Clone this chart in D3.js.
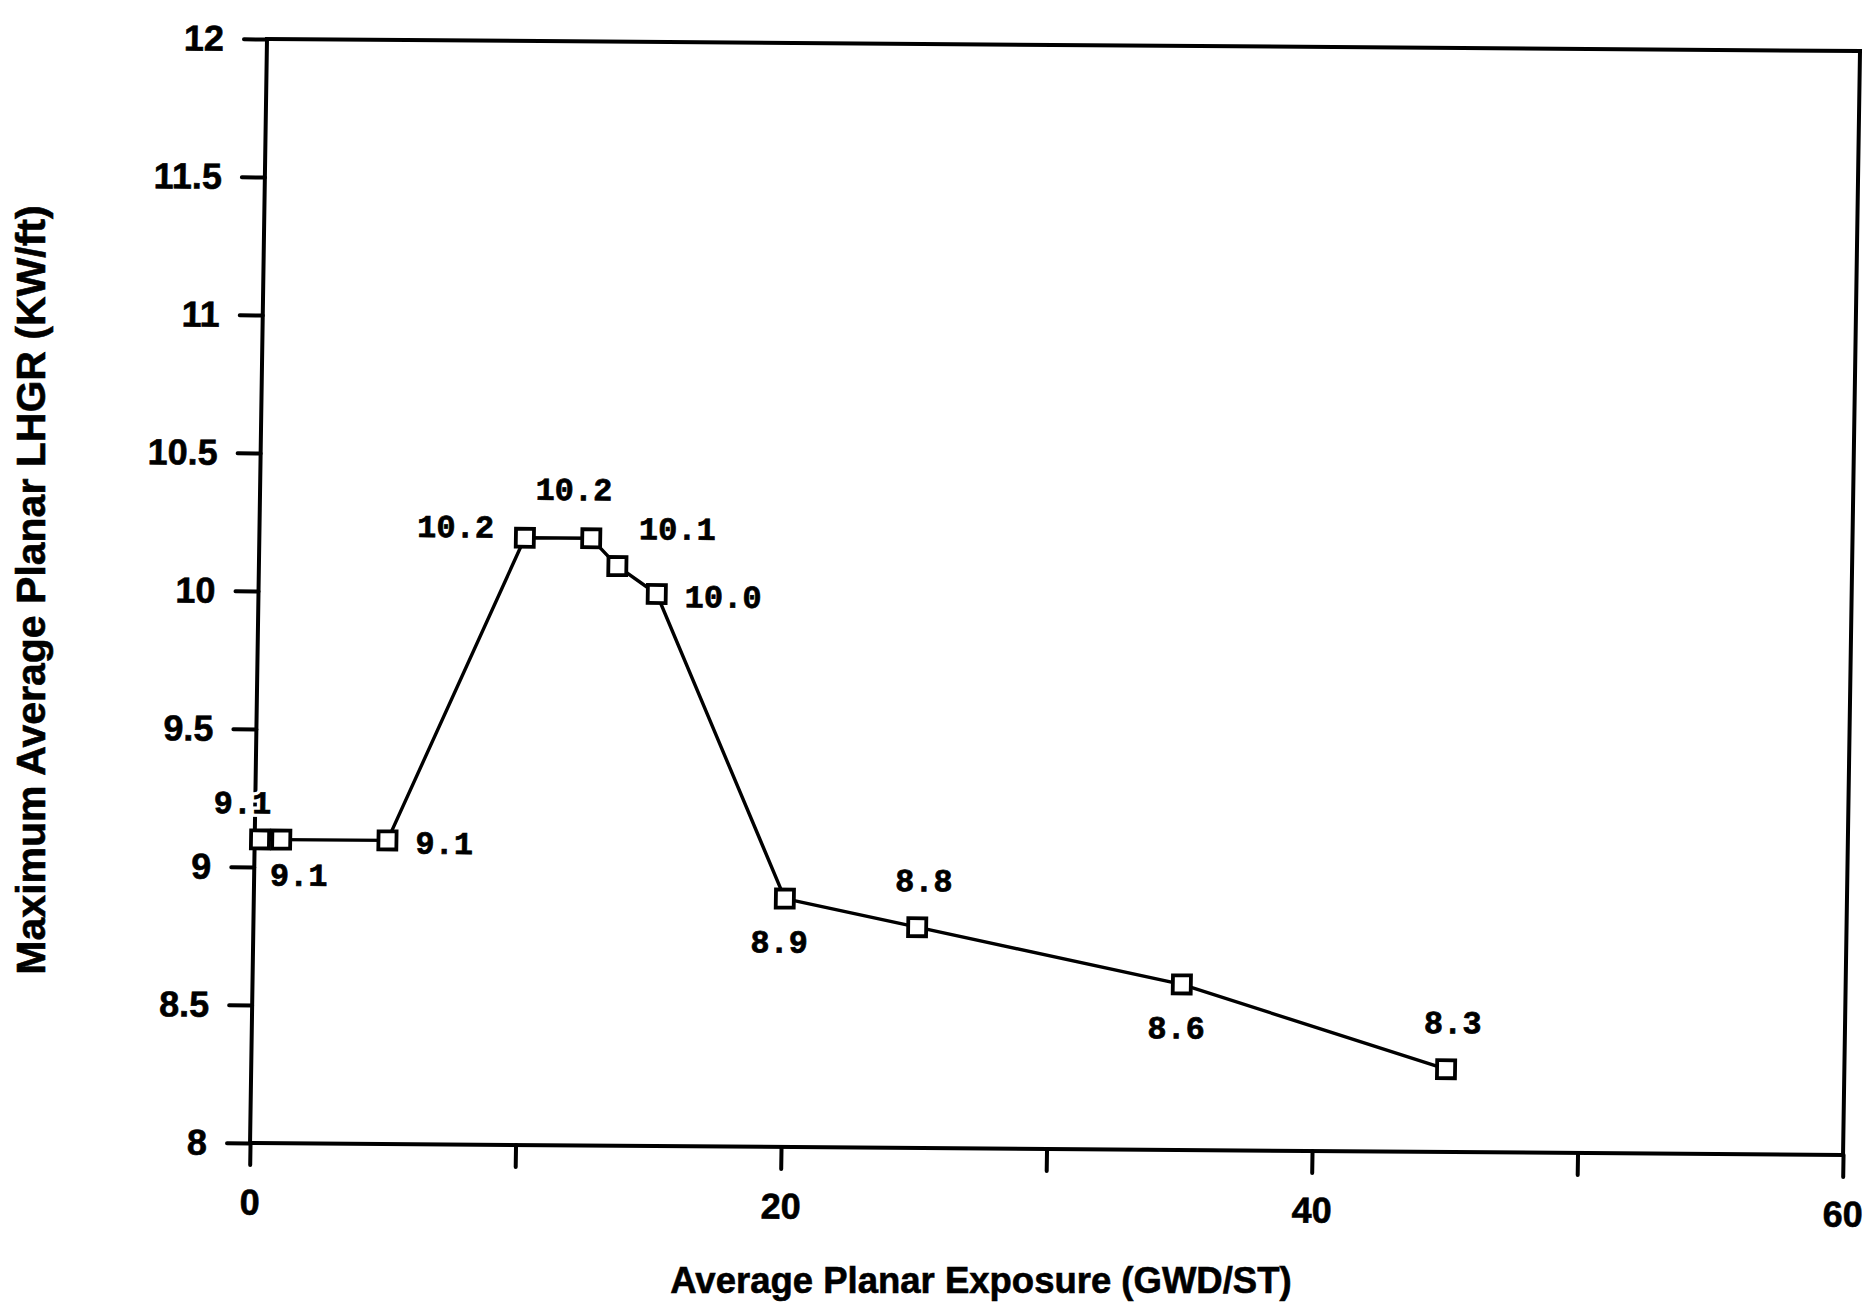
<!DOCTYPE HTML>
<html>
<head>
    <title>MAPLHGR vs Exposure</title>
    <script type="text/javascript" src="https://cdn.jsdelivr.net/npm/d3@7/dist/d3.min.js"></script>
    <style>
        body { margin: 0; background: white; }
        .tick-label { font-family: "Liberation Sans", Arial, sans-serif; font-weight: bold; stroke: black; stroke-width: 0.6px; }
        .pt-label { font-family: "Liberation Mono", "Courier New", monospace; font-weight: bold; stroke: black; stroke-width: 0.7px; }
        .pt-halo { font-family: "Liberation Mono", "Courier New", monospace; font-weight: bold; stroke: white; stroke-width: 7px; fill: white; }
    </style>
</head>
<body>
    <div id="panel"></div>

    <script>
        // data
        var exposure = [0.2, 1.0, 5.0, 10.0, 12.5, 13.5, 15.0, 20.0, 25.0, 35.0, 45.0];
        var lhgr     = [9.1, 9.1, 9.1, 10.2, 10.2, 10.1, 10.0, 8.9, 8.8, 8.6, 8.3];
        var pointLabels = ["9.1", "9.1", "9.1", "10.2", "10.2", "10.1", "10.0", "8.9", "8.8", "8.6", "8.3"];
        var labelSide = ["upleft", "downright", "right", "left", "top", "upright", "right", "below", "above", "below", "above"];
        var xTicks = [0, 10, 20, 30, 40, 50, 60];
        var xTickLabels = [0, 20, 40, 60];
        var yTicks = [8, 8.5, 9, 9.5, 10, 10.5, 11, 11.5, 12];
        var xTitle = "Average Planar Exposure (GWD/ST)";
        var yTitle = "Maximum Average Planar LHGR (KW/ft)";

        var width = 1870, height = 1305;
        var plot_w = 1593, plot_h = 1104;

        var svg = d3.select("#panel").append("svg")
                    .attr("width", width)
                    .attr("height", height);
        svg.append("rect").attr("width", width).attr("height", height).attr("fill", "white");

        // the scan is slightly sheared, so the plot area is too
        var plot = svg.append("g")
                      .attr("transform", "matrix(1, 0.00753, -0.01536, 1, 267, 39)");

        var x = d3.scaleLinear().domain([0, 60]).range([0, plot_w]);
        var y = d3.scaleLinear().domain([8, 12]).range([plot_h, 0]);

        var xAxis = plot.append("g")
                        .attr("transform", "translate(0," + plot_h + ")")
                        .call(d3.axisBottom(x)
                                .tickValues(xTicks)
                                .tickSize(22)
                                .tickSizeOuter(0)
                                .tickPadding(24)
                                .tickFormat(function(d){ return xTickLabels.indexOf(d) >= 0 ? d : ""; }));
        var yAxis = plot.append("g")
                        .call(d3.axisLeft(y)
                                .tickValues(yTicks)
                                .tickSize(23)
                                .tickSizeOuter(0)
                                .tickPadding(20)
                                .tickFormat(function(d){ return d; }));

        [xAxis, yAxis].forEach(function(ax){
            ax.select(".domain").remove();
            ax.selectAll(".tick line")
              .attr("stroke", "black")
              .attr("stroke-width", 4)
              .attr("stroke-linecap", "round");
            ax.selectAll(".tick text")
              .attr("class", "tick-label")
              .attr("fill", "black")
              .style("font-size", "36px");
        });

        // frame
        plot.append("rect")
            .attr("x", x(0)).attr("y", y(12))
            .attr("width", x(60) - x(0)).attr("height", y(8) - y(12))
            .attr("fill", "none")
            .attr("stroke", "black")
            .attr("stroke-width", 4);

        var pts = exposure.map(function(d, i){ return [d, lhgr[i]]; });

        var line = d3.line()
                     .x(function(d){ return x(d[0]); })
                     .y(function(d){ return y(d[1]); });

        plot.append("path")
            .datum(pts)
            .attr("d", line)
            .attr("fill", "none")
            .attr("stroke", "black")
            .attr("stroke-width", 3.4)
            .attr("stroke-linejoin", "round");

        // offsets for each label side
        var sides = {
            "upleft":    {dx: -18, dy: -26, anchor: "middle"},
            "top":       {dx: -18, dy: -38, anchor: "middle"},
            "downright": {dx: 18,  dy: 46,  anchor: "middle"},
            "right":     {dx: 28,  dy: 13,  anchor: "start"},
            "left":      {dx: -31, dy: 0,   anchor: "end"},
            "upright":   {dx: 21,  dy: -27, anchor: "start"},
            "above":     {dx: 6,   dy: -36, anchor: "middle"},
            "below":     {dx: -5,  dy: 54,  anchor: "middle"}
        };

        // white halo first so labels knock out the axis line behind them
        ["pt-halo", "pt-label"].forEach(function(cls){
            plot.selectAll("text." + cls)
                .data(pts)
                .enter().append("text")
                .attr("class", cls)
                .attr("x", function(d, i){ return x(d[0]) + sides[labelSide[i]].dx; })
                .attr("y", function(d, i){ return y(d[1]) + sides[labelSide[i]].dy; })
                .attr("text-anchor", function(d, i){ return sides[labelSide[i]].anchor; })
                .style("font-size", "32px")
                .text(function(d, i){ return pointLabels[i]; });
        });

        var sq = 18;
        plot.selectAll("rect.marker")
            .data(pts)
            .enter().append("rect")
            .attr("class", "marker")
            .attr("x", function(d){ return x(d[0]) - sq / 2; })
            .attr("y", function(d){ return y(d[1]) - sq / 2; })
            .attr("width", sq)
            .attr("height", sq)
            .attr("fill", "white")
            .attr("stroke", "black")
            .attr("stroke-width", 3.8);

        svg.append("text")
           .attr("class", "tick-label")
           .attr("x", 981).attr("y", 1293)
           .attr("text-anchor", "middle")
           .style("font-size", "36.5px")
           .text(xTitle);

        svg.append("text")
           .attr("class", "tick-label")
           .attr("transform", "translate(45,590) rotate(-90)")
           .attr("text-anchor", "middle")
           .style("font-size", "41px")
           .text(yTitle);
    </script>
</body>
</html>
